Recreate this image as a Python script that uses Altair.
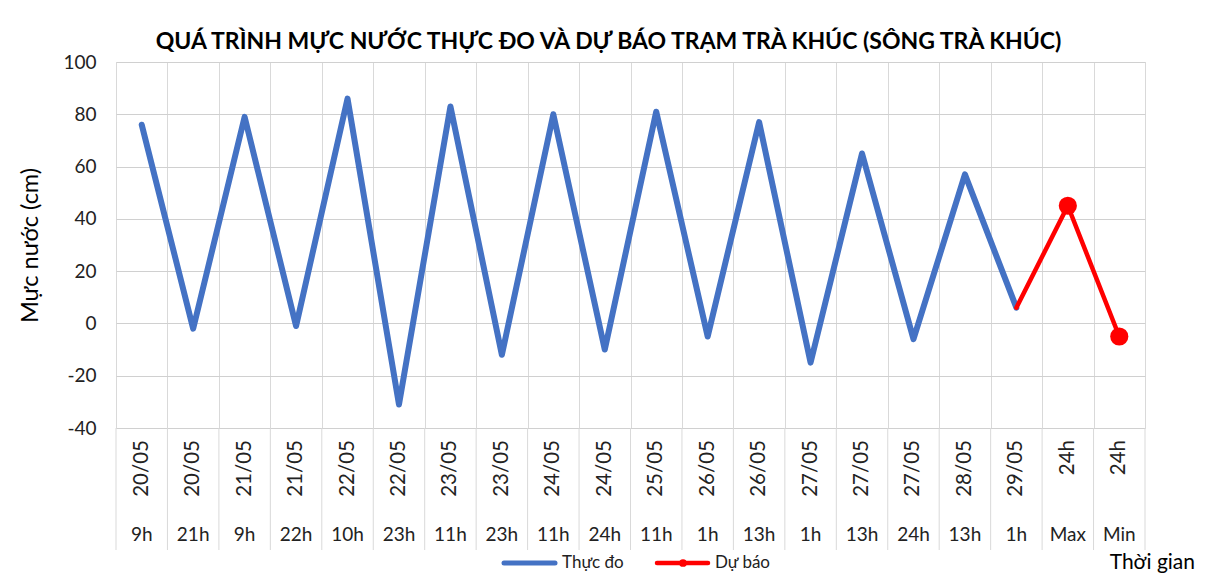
import altair as alt
import pandas as pd

dates = ["20/05", "20/05", "21/05", "21/05", "22/05", "22/05", "23/05", "23/05",
         "24/05", "24/05", "25/05", "26/05", "26/05", "27/05", "27/05", "27/05",
         "28/05", "29/05", "24h", "24h"]
hours = ["9h", "21h", "9h", "22h", "10h", "23h", "11h", "23h", "11h", "24h",
         "11h", "1h", "13h", "1h", "13h", "24h", "13h", "1h", "Max", "Min"]
observed = [76, -2, 79, -1, 86, -31, 83, -12, 80, -10, 81, -5, 77, -15, 65, -6, 57, 6]
forecast_idx = [17, 18, 19]
forecast = [6, 45, -5]
y_ticks = [-40, -20, 0, 20, 40, 60, 80, 100]

W, H = 1029, 366
FONT = "Lato"
TXT = "#222222"
BLUE = "#4472C4"
RED = "#FF0000"

n = len(dates)
cats = pd.DataFrame({"i": list(range(n)), "date": dates, "hour": hours})
obs = pd.DataFrame({"i": list(range(len(observed))), "v": observed})
fc = pd.DataFrame({"i": forecast_idx, "v": forecast})
fc_pts = fc.iloc[1:]
bounds = pd.DataFrame({"b": [k - 0.5 for k in range(n + 1)]})

xs = alt.Scale(domain=[-0.5, n - 0.5], nice=False, zero=False)
ys = alt.Scale(domain=[-40, 100], nice=False, zero=False)

grid_vals = [k / 2 - 0.5 for k in range(2 * n + 1)]

x_axis = alt.Axis(values=grid_vals, grid=True, gridColor="#d9d9d9", gridWidth=1,
                  labels=False, ticks=False, domain=False, title=None)
y_axis = alt.Axis(values=y_ticks, grid=True, gridColor="#d0d0d0", gridWidth=1,
                  ticks=False, domain=False, labelFont=FONT, labelFontSize=19,
                  labelColor=TXT, labelPadding=20, labelExpr="'' + datum.value",
                  title="Mực nước (cm)", titleFont=FONT, titleFontSize=23.5,
                  titleFontWeight="normal", titleColor="#000000",
                  titleX=-86, titleY=H / 2, titleAngle=270,
                  titleAlign="center", titleBaseline="middle")

base_line = alt.Chart(obs).mark_line(color=BLUE, strokeWidth=6,
                                      strokeJoin="round", strokeCap="round").encode(
    x=alt.X("i:Q", scale=xs, axis=x_axis),
    y=alt.Y("v:Q", scale=ys, axis=y_axis),
)

red_line = alt.Chart(fc).mark_line(color=RED, strokeWidth=4.5,
                                   strokeJoin="round", strokeCap="round").encode(
    x=alt.X("i:Q", scale=xs),
    y=alt.Y("v:Q", scale=ys),
)
red_pts = alt.Chart(fc_pts).mark_point(filled=True, color=RED, size=330, opacity=1).encode(
    x=alt.X("i:Q", scale=xs),
    y=alt.Y("v:Q", scale=ys),
)

seps = alt.Chart(bounds).mark_rule(color="#d9d9d9", strokeWidth=1).encode(
    x=alt.X("b:Q", scale=xs),
    y=alt.value(H),
    y2=alt.value(H + 122),
)

date_txt = alt.Chart(cats).mark_text(angle=270, align="right", baseline="middle",
                                     font=FONT, fontSize=20.5, color=TXT).encode(
    x=alt.X("i:Q", scale=xs),
    y=alt.value(H + 12),
    text="date:N",
)
hour_txt = alt.Chart(cats).mark_text(align="center", baseline="middle",
                                     font=FONT, fontSize=19, color=TXT).encode(
    x=alt.X("i:Q", scale=xs),
    y=alt.value(H + 107),
    text="hour:N",
)

# legend (custom, Excel style)
LY = H + 135
one = cats.head(1)
leg_blue = alt.Chart(one).mark_rule(color=BLUE, strokeWidth=5, strokeCap="round").encode(
    x=alt.value(388), x2=alt.value(439), y=alt.value(LY))
leg_blue_t = alt.Chart(one).mark_text(align="left", baseline="middle", font=FONT,
                                      fontSize=17, color=TXT).encode(
    x=alt.value(446), y=alt.value(LY), text=alt.value("Thực đo"))
leg_red = alt.Chart(one).mark_rule(color=RED, strokeWidth=4.5, strokeCap="round").encode(
    x=alt.value(541), x2=alt.value(592), y=alt.value(LY))
leg_red_p = alt.Chart(one).mark_point(filled=True, color=RED, size=60, opacity=1).encode(
    x=alt.value(567), y=alt.value(LY))
leg_red_t = alt.Chart(one).mark_text(align="left", baseline="middle", font=FONT,
                                     fontSize=17, color=TXT).encode(
    x=alt.value(599), y=alt.value(LY), text=alt.value("Dự báo"))
xtitle = alt.Chart(one).mark_text(align="right", baseline="alphabetic", font=FONT,
                                  fontSize=21, color="#000000").encode(
    x=alt.value(1079), y=alt.value(H + 141), text=alt.value("Thời gian"))

chart = alt.layer(
    base_line, seps, red_line, red_pts, date_txt, hour_txt,
    leg_blue, leg_blue_t, leg_red, leg_red_p, leg_red_t, xtitle,
).properties(
    width=W, height=H,
    autosize=alt.AutoSizeParams(type="none"),
    padding={"left": 108, "top": 54, "right": 64, "bottom": 146},
    title=alt.TitleParams("QUÁ TRÌNH MỰC NƯỚC THỰC ĐO VÀ DỰ BÁO TRẠM TRÀ KHÚC (SÔNG TRÀ KHÚC)",
                          font=FONT, fontSize=23, fontWeight="bold", color="#000000",
                          anchor="middle", dx=-22, dy=11, offset=10),
).configure_view(strokeWidth=0).configure(background="white")

chart.save("out.html", embed_options={"renderer": "svg", "actions": False})
